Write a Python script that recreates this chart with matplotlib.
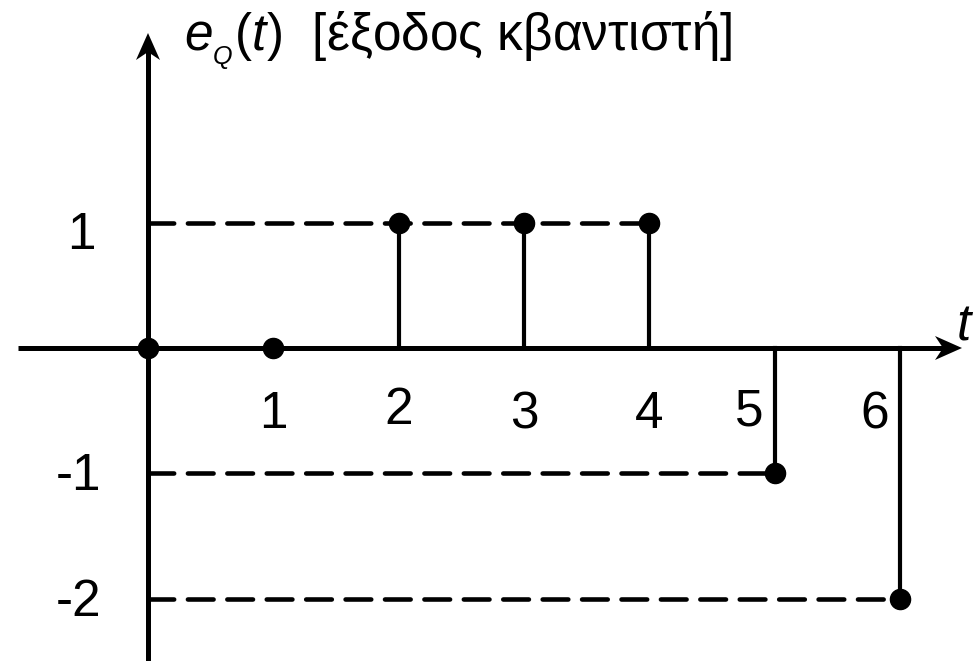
import matplotlib
matplotlib.use('Agg')

import numpy as np
import matplotlib.pyplot as plt
from matplotlib.patches import Polygon

# Samples of the quantizer output
t_vals = [0, 1, 2, 3, 4, 5, 6]
eq_vals = [0, 0, 1, 1, 1, -1, -2]

# Axis tick labels
x_ticks = [1, 2, 3, 4, 5, 6]
x_tick_labels = ['1', '2', '3', '4', '5', '6']
y_ticks = [1, -1, -2]
y_tick_labels = ['1', '-1', '-2']

plt.rcParams['font.family'] = ['Liberation Sans', 'DejaVu Sans']
plt.rcParams['mathtext.fontset'] = 'custom'
plt.rcParams['mathtext.rm'] = 'Liberation Sans'
plt.rcParams['mathtext.it'] = 'Liberation Sans:italic'

fig = plt.figure(figsize=(9.8, 6.61), dpi=100)
ax = fig.add_axes([0, 0, 1, 1])
ux = uy = 125.3  # pixels per unit
ax.set_xlim(-148 / ux, (980 - 148) / ux)
ax.set_ylim(-(661 - 348) / uy, 348 / uy)
ax.axis('off')


def head(tip, direction):
    # stealth-like arrow head, sizes in pixels
    L, W, N = 27 / ux, 12 / ux, 8 / ux
    tx, ty = tip
    if direction == 'x':
        pts = [(tx, ty), (tx - L, ty + W), (tx - L + N, ty), (tx - L, ty - W)]
    else:
        pts = [(tx, ty), (tx - W, ty - L), (tx, ty - L + N), (tx + W, ty - L)]
    ax.add_patch(Polygon(pts, closed=True, color='black', lw=0, zorder=4))


# axes
x_end = (962 - 148) / ux
y_end = (348 - 33) / uy
ax.plot([-1.04, x_end - 0.1], [0, 0], color='black', lw=3.6, solid_capstyle='butt', zorder=1)
ax.plot([0, 0], [-2.6, y_end - 0.1], color='black', lw=3.6, solid_capstyle='butt', zorder=1)
head((x_end, 0), 'x')
head((0, y_end), 'y')

# dashed guide lines for each nonzero level (up to the last sample of that level)
for lvl in sorted(set(v for v in eq_vals if v != 0)):
    t_last = max(t for t, v in zip(t_vals, eq_vals) if v == lvl)
    ax.plot([0, t_last], [lvl, lvl], color='black', lw=3.3,
            dashes=(5.6, 3.0), dash_capstyle='round', zorder=1)

# stems and markers
for t, v in zip(t_vals, eq_vals):
    if v != 0:
        ax.plot([t, t], [0, v], color='black', lw=3.0, zorder=2)
ax.plot(t_vals, eq_vals, 'o', color='black', markersize=14.5, zorder=3)

# tick labels
x_off = {5: -0.2, 6: -0.2}
x_dy = {2: 0.033, 5: 0.02}
for t, lab in zip(x_ticks, x_tick_labels):
    ax.text(t + x_off.get(t, 0), -0.64 + x_dy.get(t, 0), lab, fontsize=37,
            ha='center', va='baseline')
for v, lab in zip(y_ticks, y_tick_labels):
    ax.text(-0.37 if v < 0 else -0.42, v - 0.21 if v > 0 else v - 0.135, lab,
            fontsize=37, ha='right', va='baseline')

# axis titles
ax.text(0.29, 2.37, r'$\mathit{e_{_Q}(t)}$  [έξοδος κβαντιστή]', fontsize=37,
        ha='left', va='baseline')
ax.text(6.45, 0.06, 't', fontsize=37, style='italic', ha='left', va='baseline')

fig.savefig('out.png', dpi=100)
